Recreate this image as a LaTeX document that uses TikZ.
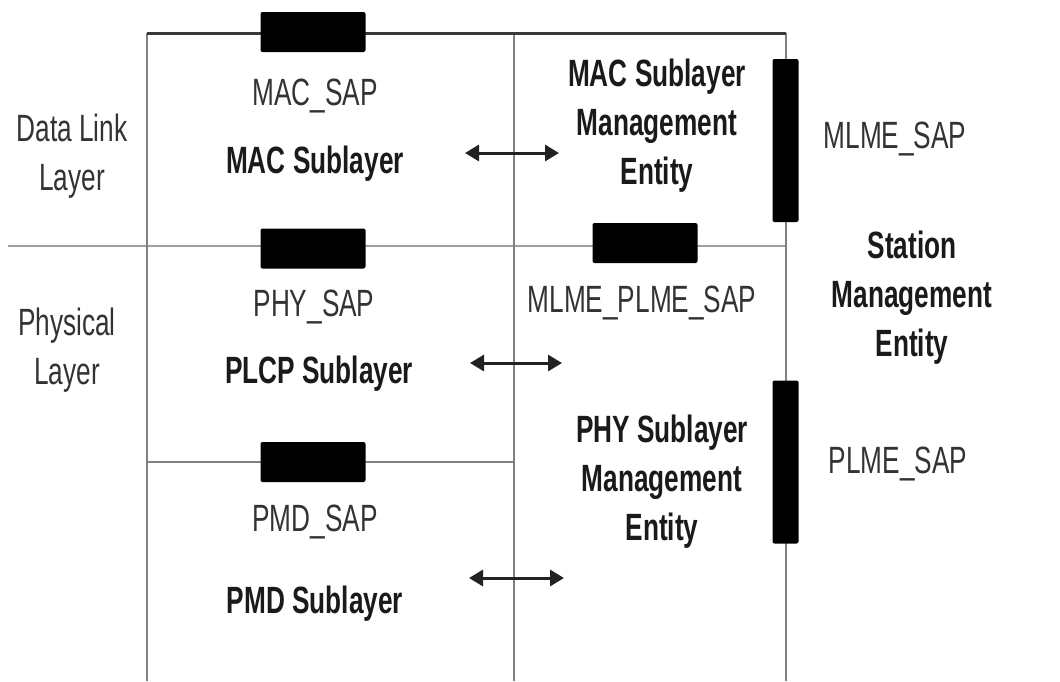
\documentclass[tikz,border=0pt]{standalone}
\usepackage{fontspec}
\setmainfont{Liberation Sans}[FakeStretch=0.69]
\usetikzlibrary{arrows.meta}
\definecolor{regc}{HTML}{333333}
\definecolor{boldc}{HTML}{1A1A1A}
\definecolor{topc}{HTML}{3A3A3A}
\definecolor{linec}{HTML}{808080}
\definecolor{lightc}{HTML}{A0A0A0}
\definecolor{arrc}{HTML}{222222}
\begin{document}
\begin{tikzpicture}[x=1pt,y=-1pt,
  lbl/.style={inner sep=0pt, font=\fontsize{38}{49}\selectfont, text=regc, align=center},
  blbl/.style={inner sep=0pt, font=\fontsize{38}{49}\selectfont\bfseries, text=boldc, align=center},
  sapbox/.style={fill=black, draw=none, rounded corners=2pt, inner sep=0pt},
  hsap/.style={sapbox, minimum width=105pt, minimum height=40pt},
  vsap/.style={sapbox, minimum width=26pt, minimum height=163pt},
  topline/.style={draw=topc, line width=3pt},
  gridline/.style={draw=linec, line width=2.4pt},
  layerline/.style={draw=lightc, line width=2.4pt},
  dblarrow/.style={draw=arrc, line width=3pt, {Triangle[length=14pt,width=16pt]}-{Triangle[length=14pt,width=16pt]}}
]
\useasboundingbox[fill=white] (0,0) rectangle (1060,681);
% frame coordinates
\coordinate (tl) at (147,33);
\coordinate (tm) at (514,33);
\coordinate (tr) at (786,33);
\coordinate (bl) at (147,681);
\coordinate (bm) at (514,681);
\coordinate (br) at (786,681);
\coordinate (ll) at (8,246);
\coordinate (lr) at (786,246);
\coordinate (pl) at (147,462);
\coordinate (pr) at (514,462);
% lines
\draw[layerline] (ll) -- (lr);
\draw[gridline] (pl) -- (pr);
\draw[gridline] (tl) -- (bl);
\draw[gridline] (tm) -- (bm);
\draw[gridline] (tr) -- (br);
\draw[topline] (tl) -- (tr);
% SAP boxes
\node[hsap] (macsap) at (313,32) {};
\node[hsap] (physap) at (313,248.5) {};
\node[hsap] (pmdsap) at (313,462) {};
\node[hsap] (mlmeplmesap) at (645,243) {};
\node[vsap] (mlmesap) at (785.5,140.5) {};
\node[vsap] (plmesap) at (785.5,462) {};
% labels
\node[lbl, anchor=base] (macsapt) at (315,105.5) {MAC\_SAP};
\node[blbl, anchor=base] (macsub) at (315,173.5) {MAC Sublayer};
\node[lbl] (dll) at (72,156) {Data Link\\Layer};
\node[blbl] (mlme) at (657,126) {MAC Sublayer\\Management\\Entity};
\node[lbl, anchor=base] (mlmesapt) at (895,148.5) {MLME\_SAP};
\node[blbl] (sme) at (912,298) {Station\\Management\\Entity};
\node[lbl, anchor=base] (mpst) at (642,312.5) {MLME\_PLME\_SAP};
\node[lbl, anchor=base] (physapt) at (314,316.5) {PHY\_SAP};
\node[blbl, anchor=base] (plcp) at (319,383.5) {PLCP Sublayer};
\node[lbl] (phl) at (67,350) {Physical\\Layer};
\node[blbl] (plme) at (662,481.5) {PHY Sublayer\\Management\\Entity};
\node[lbl, anchor=base] (plmesapt) at (898,473.5) {PLME\_SAP};
\node[lbl, anchor=base] (pmdsapt) at (315,531.5) {PMD\_SAP};
\node[blbl, anchor=base] (pmdsub) at (315,613.5) {PMD Sublayer};
% arrows
\coordinate (a1l) at (465,153);
\coordinate (a1r) at (559,153);
\coordinate (a2l) at (470,363);
\coordinate (a2r) at (562,363);
\coordinate (a3l) at (469,578);
\coordinate (a3r) at (564,578);
\draw[dblarrow] (a1l) -- (a1r);
\draw[dblarrow] (a2l) -- (a2r);
\draw[dblarrow] (a3l) -- (a3r);
\end{tikzpicture}
\end{document}
